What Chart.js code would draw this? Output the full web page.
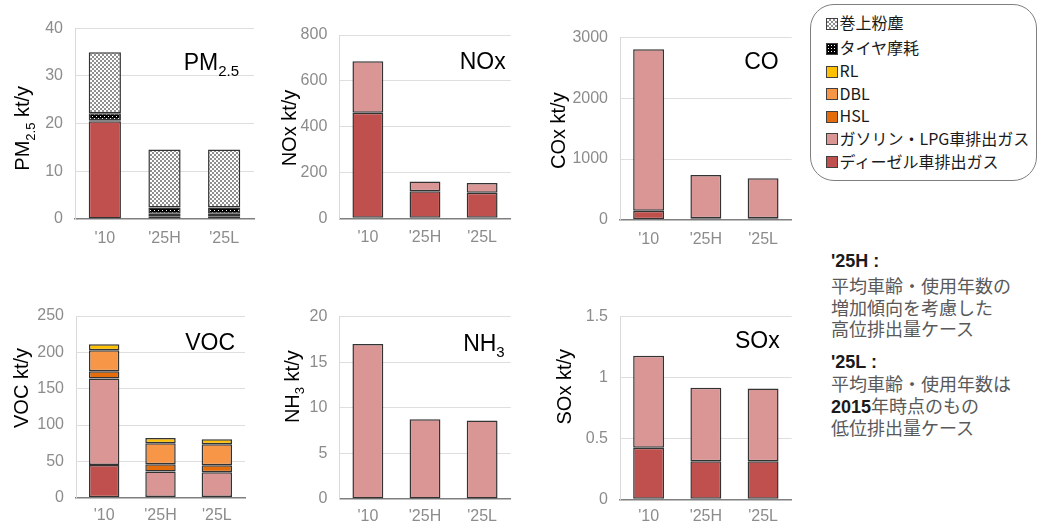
<!DOCTYPE html>
<html><head><meta charset="utf-8">
<script src="https://cdn.jsdelivr.net/npm/chart.js@4"></script>
<style>
html,body{margin:0;padding:0;background:#fff;width:1040px;height:525px;overflow:hidden;position:relative;font-family:"Liberation Sans",Arial,sans-serif}
canvas.panel{position:absolute}
#legend{position:absolute;left:810px;top:4px;width:227px;height:177px;border:1.5px solid #7f7f7f;border-radius:24px;box-sizing:border-box;font-family:"Noto Sans CJK JP",sans-serif;font-size:16px;color:#1a1a1a}
.item{position:absolute;left:14.5px;height:22px;line-height:22px;white-space:nowrap}
.sw{display:inline-block;width:10px;height:10px;border:1px solid #404040;vertical-align:middle;margin-right:2px;position:relative;top:-1px}
.note{position:absolute;left:831px;height:22px;line-height:22px;white-space:nowrap;font-family:"Noto Sans CJK JP",sans-serif;font-size:18px;color:#595959}
.note b{color:#1a1a1a;font-family:"Liberation Sans",Arial,sans-serif;font-weight:bold}
</style>
</head><body>
<canvas id="c0" class="panel"></canvas>
<canvas id="c1" class="panel"></canvas>
<canvas id="c2" class="panel"></canvas>
<canvas id="c3" class="panel"></canvas>
<canvas id="c4" class="panel"></canvas>
<canvas id="c5" class="panel"></canvas>
<div id="legend"></div>
<div class="note" style="top:248px"><b>'25H :</b></div>
<div class="note" style="top:274px">平均車齢・使用年数の</div>
<div class="note" style="top:295.5px">増加傾向を考慮した</div>
<div class="note" style="top:317px">高位排出量ケース</div>
<div class="note" style="top:348.5px"><b>'25L :</b></div>
<div class="note" style="top:372px">平均車齢・使用年数は</div>
<div class="note" style="top:393.5px"><b>2015</b>年時点のもの</div>
<div class="note" style="top:416px">低位排出量ケース</div>
<script>
// ---- data ----
const categories = ["'10", "'25H", "'25L"];
const legendLabels = ["巻上粉塵", "タイヤ摩耗", "RL", "DBL", "HSL", "ガソリン・LPG車排出ガス", "ディーゼル車排出ガス"];

const pmDiesel   = [20.5, 0.6, 0.6];
const pmGasoline = [0.2, 0.5, 0.5];
const pmTire     = [1.5, 1.3, 1.3];
const pmDust     = [12.8, 12.2, 12.2];

const noxDiesel   = [461, 118, 112];
const noxGasoline = [224, 43, 42];

const coDiesel   = [148, 25, 25];
const coGasoline = [2660, 712, 657];

const vocDiesel   = [45, 1, 1];
const vocGasoline = [119, 35, 34];
const vocHSL      = [10, 10, 9.5];
const vocDBL      = [29, 29, 29];
const vocRL       = [8, 7, 7];

const nh3Gasoline = [17.0, 8.75, 8.6];

const soxDiesel   = [0.424, 0.312, 0.312];
const soxGasoline = [0.756, 0.604, 0.598];

const pmTicks  = [0, 40, 10];
const noxTicks = [0, 800, 200];
const coTicks  = [0, 3000, 1000];
const vocTicks = [0, 250, 50];
const nh3Ticks = [0, 20, 5];
const soxTicks = [0, 1.5, 0.5];

// ---- styles ----
function makeChecker(){
  const c=document.createElement('canvas'); c.width=c.height=4;
  const g=c.getContext('2d'); g.fillStyle='#fff'; g.fillRect(0,0,4,4);
  g.fillStyle='#8f8f8f'; g.fillRect(0,0,2,2); g.fillRect(2,2,2,2);
  return g.createPattern(c,'repeat');
}
function makeDots(){
  const c=document.createElement('canvas'); c.width=c.height=4;
  const g=c.getContext('2d'); g.fillStyle='#000'; g.fillRect(0,0,4,4);
  g.fillStyle='#fff'; g.fillRect(0,0,1,1); g.fillRect(2,2,1,1);
  return g.createPattern(c,'repeat');
}
const fills = {
  diesel:'#C0504D', gasoline:'#D99694', hsl:'#E46C0A', dbl:'#F79646', rl:'#FFC000',
  tire: makeDots(), dust: makeChecker()
};
const order = ['diesel','gasoline','hsl','dbl','rl','tire','dust'];

// legend (HTML)
const legendCss = {
  dust:'background:repeating-conic-gradient(#8f8f8f 0 25%,#fff 0 50%) 0 0/4px 4px',
  tire:'background:radial-gradient(circle,#fff 0 22%,#000 30%) 0 0/3px 3px',
  rl:'background:#FFC000', dbl:'background:#F79646', hsl:'background:#E46C0A',
  gasoline:'background:#D99694', diesel:'background:#C0504D'
};
const legendKeys = ['dust','tire','rl','dbl','hsl','gasoline','diesel'];
const legendTops = [6.2,31.2,54.2,76.8,99.2,121.8,144.8];
const lg = document.getElementById('legend');
legendKeys.forEach((k,i)=>{
  const d=document.createElement('div'); d.className='item'; d.style.top=legendTops[i]+'px';
  d.innerHTML='<span class="sw" style="'+legendCss[k]+'"></span>'+legendLabels[i];
  lg.appendChild(d);
});

const panels = [
  {box:[0,0,270,260], plot:[75,28.3,254,219], ticks:pmTicks, xpad:2,
   data:{diesel:pmDiesel,gasoline:pmGasoline,tire:pmTire,dust:pmDust},
   title:[['PM',0],['2.5',1]], ytitle:[['PM',0],['2.5',1],[' kt/y',0]], tpos:[15,33], ypos:[53,100]},
  {box:[270,0,270,260], plot:[339.3,35,510.7,218.3], ticks:noxTicks, xpad:2,
   data:{diesel:noxDiesel,gasoline:noxGasoline},
   title:[['NOx',0]], ytitle:[['NOx kt/y',0]], tpos:[5,26], ypos:[51,93]},
  {box:[540,0,260,260], plot:[620,37.7,791.7,219.7], ticks:coTicks, xpad:2,
   data:{diesel:coDiesel,gasoline:coGasoline},
   title:[['CO',0]], ytitle:[['COx kt/y',0]], tpos:[13,23], ypos:[62.5,93]},
  {box:[0,290,270,235], plot:[76,316,245,497.7], ticks:vocTicks, xpad:0,
   data:{diesel:vocDiesel,gasoline:vocGasoline,hsl:vocHSL,dbl:vocDBL,rl:vocRL},
   title:[['VOC',0]], ytitle:[['VOC kt/y',0]], tpos:[10,26], ypos:[55.7,72]},
  {box:[270,290,270,235], plot:[339.3,316.7,510.7,499], ticks:nh3Ticks, xpad:0,
   data:{gasoline:nh3Gasoline},
   title:[['NH',0],['3',1]], ytitle:[['NH',0],['3',1],[' kt/y',0]], tpos:[6,26], ypos:[48,70]},
  {box:[540,290,260,235], plot:[620,316.7,791.7,499.3], ticks:soxTicks, xpad:0,
   data:{diesel:soxDiesel,gasoline:soxGasoline},
   title:[['SOx',0]], ytitle:[['SOx kt/y',0]], tpos:[12,23], ypos:[56.7,70]}
];

const FAM = '"Liberation Sans", Arial, sans-serif';
function runsWidth(ctx, runs, big, small){
  let w=0;
  runs.forEach(([t,s])=>{ctx.font=(s?small:big)+'px '+FAM; w+=ctx.measureText(t).width;});
  return w;
}
function drawRuns(ctx, runs, x, yBase, big, small){
  let cx=x;
  runs.forEach(([t,s])=>{
    ctx.font=(s?small:big)+'px '+FAM;
    ctx.fillText(t, cx, yBase + (s? big*0.28 : 0));
    cx+=ctx.measureText(t).width;
  });
}
const textPlugin = {
  id:'panelText',
  afterDraw(chart, args, o){
    const ctx=chart.ctx, a=chart.chartArea;
    ctx.save();
    ctx.fillStyle='#000'; ctx.textBaseline='alphabetic'; ctx.textAlign='left';
    const big=23, small=15;
    const w=runsWidth(ctx,o.title,big,small);
    drawRuns(ctx,o.title,a.right-o.tpos[0]-w,a.top+o.tpos[1]+big*0.36,big,small);
    const yb=20, ys=13;
    const w2=runsWidth(ctx,o.ytitle,yb,ys);
    ctx.translate(a.left-o.ypos[0], a.top+o.ypos[1]);
    ctx.rotate(-Math.PI/2);
    drawRuns(ctx,o.ytitle,-w2/2,yb*0.36,yb,ys);
    ctx.restore();
  }
};

panels.forEach((p,i)=>{
  const cv=document.getElementById('c'+i);
  const [bx,by,bw,bh]=p.box, [L,T,R,B]=p.plot;
  cv.width=bw; cv.height=bh;
  cv.style.left=bx+'px'; cv.style.top=by+'px'; cv.style.width=bw+'px'; cv.style.height=bh+'px';
  const datasets = order.filter(k=>p.data[k]).map(k=>({
    data:p.data[k], backgroundColor:fills[k], borderColor:'#333333', borderWidth:1.5,
    borderSkipped:false, barPercentage:0.54, categoryPercentage:1, stack:'s'
  }));
  new Chart(cv,{
    type:'bar',
    data:{labels:categories, datasets},
    plugins:[textPlugin],
    options:{
      responsive:false, animation:false, devicePixelRatio:1,
      layout:{padding:{top:T-by,right:bx+bw-R,left:0,bottom:0}},
      plugins:{legend:{display:false},tooltip:{enabled:false},title:{display:false},
        panelText:{title:p.title,ytitle:p.ytitle,tpos:p.tpos,ypos:p.ypos}},
      scales:{
        x:{stacked:true, grid:{display:false}, border:{display:true,color:'#7f7f7f',width:1.5},
           ticks:{color:'#8c8c8c',font:{family:FAM,size:16},padding:p.xpad},
           afterFit(s){s.height=by+bh-B;}},
        y:{stacked:true, min:p.ticks[0], max:p.ticks[1],
           grid:{drawTicks:false,color:c=>c.tick&&c.tick.value===0?'rgba(0,0,0,0)':'#dedede'},
           border:{display:true,color:'#d9d9d9',width:1},
           ticks:{stepSize:p.ticks[2],color:'#8c8c8c',font:{family:FAM,size:16},padding:12,
             callback:v=>String(+v.toFixed(2))},
           afterFit(s){s.width=L-bx;}}
      }
    }
  });
});
</script>
</body></html>
